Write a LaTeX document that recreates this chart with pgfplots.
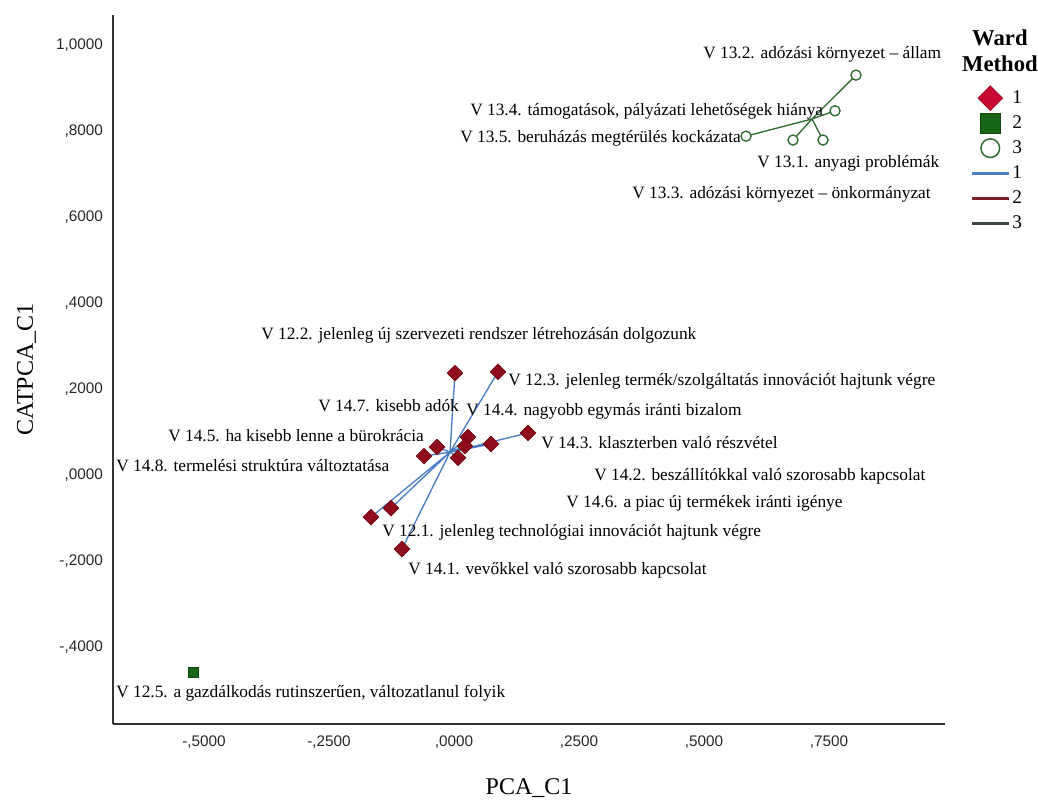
\documentclass[border=0pt]{standalone}
\usepackage{fontspec}
\setmainfont{Liberation Serif}
\setsansfont{Liberation Sans}
\usepackage{pgfplots}
\pgfplotsset{compat=1.18}

\definecolor{dia}{HTML}{8E0C1C}
\definecolor{diaedge}{HTML}{6A0612}
\definecolor{legdia}{HTML}{C80A32}
\definecolor{sqr}{HTML}{166416}
\definecolor{circ}{HTML}{2E6B2E}
\definecolor{line1}{HTML}{4A7EC4}
\definecolor{line2}{HTML}{7B1F2A}
\definecolor{line3}{HTML}{2F6B2F}
\definecolor{legline3}{HTML}{3C463C}

\pgfplotsset{
  legmark/.style={only marks,
    legend image code/.code={\path[draw=none, fill=none] (0cm,-5pt) rectangle (0.98cm,5pt);
      \draw[##1, overlay] plot coordinates {(0.49cm,0cm)};}},
}
\tikzset{lbl/.style={font=\fontsize{13}{15}\selectfont, inner sep=0pt, anchor=base west}}

\begin{document}
\begin{tikzpicture}
\useasboundingbox (-84.75pt,-57pt) rectangle (693.75pt,543pt);
\begin{axis}[
  at={(0pt,0pt)}, anchor=south west,
  scale only axis, width=624pt, height=531.75pt,
  xmin=-0.682, xmax=0.982, ymin=-0.5791, ymax=1.0698,
  clip=false,
  axis lines*=left,
  axis line style={line width=1.3pt, draw=black!80},
  major tick length=0pt,
  xtick={-0.5,-0.25,0,0.25,0.5,0.75},
  xticklabels={{-,5000},{-,2500},{,0000},{,2500},{,5000},{,7500}},
  ytick={-0.4,-0.2,0,0.2,0.4,0.6,0.8,1},
  yticklabels={{-,4000},{-,2000},{,0000},{,2000},{,4000},{,6000},{,8000},{1,0000}},
  x tick label style={font=\sffamily\fontsize{11.5}{13}\selectfont, text=black!85, yshift=-5pt},
  y tick label style={font=\sffamily\fontsize{11.5}{13}\selectfont, text=black!85, xshift=-4pt},
  xlabel={PCA\_C1},
  ylabel={CATPCA\_C1},
  xlabel style={font=\fontsize{18}{21}\selectfont, at={(axis description cs:0.5,-0.09)}, anchor=center},
  ylabel style={font=\fontsize{18}{21}\selectfont, at={(axis description cs:-0.104,0.5)}, anchor=center},
  legend style={draw=none, fill=none, at={(1.030,0.9007)}, anchor=north west,
    inner sep=0pt, row sep=0pt, font=\fontsize{14.5}{16}\selectfont,
    nodes={inner sep=1.5pt, minimum height=18.75pt}},
  legend cell align=left,
  legend image code/.code={\path[draw=none, fill=none] (0cm,-5pt) rectangle (0.98cm,5pt);
    \draw[#1] (0cm,0cm) -- (0.98cm,0cm);},
]
% cluster 1 star lines (centroid to each case)
\addplot[draw=line1, line width=1pt, forget plot] coordinates {
  (-0.008,0.053) (0.002,0.237) (-0.008,0.053) (0.088,0.240)
  (-0.008,0.053) (0.148,0.098) (-0.008,0.053) (0.074,0.072)
  (-0.008,0.053) (0.028,0.088) (-0.008,0.053) (0.022,0.067)
  (-0.008,0.053) (0.008,0.040) (-0.008,0.053) (-0.034,0.065)
  (-0.008,0.053) (-0.060,0.044) (-0.008,0.053) (-0.126,-0.077)
  (-0.008,0.053) (-0.166,-0.098) (-0.008,0.053) (-0.104,-0.172)
};
% cluster 3 star lines
\addplot[draw=line3, line width=1pt, forget plot] coordinates {
  (0.716,0.828) (0.804,0.930) (0.716,0.828) (0.762,0.847)
  (0.716,0.828) (0.584,0.788) (0.716,0.828) (0.678,0.779)
  (0.716,0.828) (0.738,0.779)
};
% cluster 1 cases
\addplot[only marks, mark=square*, mark size=4.2pt,
  mark options={rotate=45, fill=dia, draw=diaedge, line width=0.4pt}, forget plot] coordinates {
  (0.002,0.237) (0.088,0.240) (0.148,0.098) (0.074,0.072)
  (0.028,0.088) (0.022,0.067) (0.008,0.040) (-0.034,0.065)
  (-0.060,0.044) (-0.126,-0.077) (-0.166,-0.098) (-0.104,-0.172)
};
% cluster 2 case
\addplot[only marks, mark=square*, mark size=3.8pt,
  mark options={fill=sqr, draw=sqr!70!black, line width=0.4pt}, forget plot] coordinates {
  (-0.522,-0.458)
};
% cluster 3 cases
\addplot[only marks, mark=*, mark size=3.8pt,
  mark options={fill=white, draw=circ, line width=1pt}, forget plot] coordinates {
  (0.804,0.930) (0.762,0.847) (0.584,0.788) (0.678,0.779) (0.738,0.779)
};

\addlegendimage{legmark, mark=square*, mark size=6.6pt,
  mark options={rotate=45, fill=legdia, draw=legdia!70!black, line width=0.4pt}}
\addlegendentry{1}
\addlegendimage{legmark, mark=square*, mark size=7.6pt,
  mark options={fill=sqr, draw=sqr!70!black, line width=0.4pt}}
\addlegendentry{2}
\addlegendimage{legmark, mark=*, mark size=7pt,
  mark options={fill=white, draw=circ, line width=1.1pt}}
\addlegendentry{3}
\addlegendimage{draw=line1, line width=2.2pt}
\addlegendentry{1}
\addlegendimage{draw=line2, line width=2.2pt}
\addlegendentry{2}
\addlegendimage{draw=legline3, line width=2.2pt}
\addlegendentry{3}

\node[font=\bfseries\fontsize{17}{19.5}\selectfont, align=center]
  at (axis description cs:1.066,0.949) {Ward\\Method};

% case labels
\node[lbl] at (axis cs:0.498,0.969) {V 13.2. adózási környezet – állam};
\node[lbl] at (axis cs:0.032,0.837) {V 13.4. támogatások, pályázati lehetőségek hiánya};
\node[lbl] at (axis cs:0.012,0.774) {V 13.5. beruházás megtérülés kockázata};
\node[lbl] at (axis cs:0.606,0.714) {V 13.1. anyagi problémák};
\node[lbl] at (axis cs:0.356,0.644) {V 13.3. adózási környezet – önkormányzat};
\node[lbl] at (axis cs:-0.386,0.314) {V 12.2. jelenleg új szervezeti rendszer létrehozásán dolgozunk};
\node[lbl] at (axis cs:0.108,0.207) {V 12.3. jelenleg termék/szolgáltatás innovációt hajtunk végre};
\node[lbl] at (axis cs:-0.272,0.148) {V 14.7. kisebb adók};
\node[lbl] at (axis cs:0.024,0.139) {V 14.4. nagyobb egymás iránti bizalom};
\node[lbl] at (axis cs:-0.572,0.079) {V 14.5. ha kisebb lenne a bürokrácia};
\node[lbl] at (axis cs:0.174,0.062) {V 14.3. klaszterben való részvétel};
\node[lbl] at (axis cs:-0.676,0.008) {V 14.8. termelési struktúra változtatása};
\node[lbl] at (axis cs:0.280,-0.012) {V 14.2. beszállítókkal való szorosabb kapcsolat};
\node[lbl] at (axis cs:0.224,-0.075) {V 14.6. a piac új termékek iránti igénye};
\node[lbl] at (axis cs:-0.144,-0.142) {V 12.1. jelenleg technológiai innovációt hajtunk végre};
\node[lbl] at (axis cs:-0.092,-0.232) {V 14.1. vevőkkel való szorosabb kapcsolat};
\node[lbl] at (axis cs:-0.676,-0.517) {V 12.5. a gazdálkodás rutinszerűen, változatlanul folyik};
\end{axis}
\end{tikzpicture}
\end{document}
